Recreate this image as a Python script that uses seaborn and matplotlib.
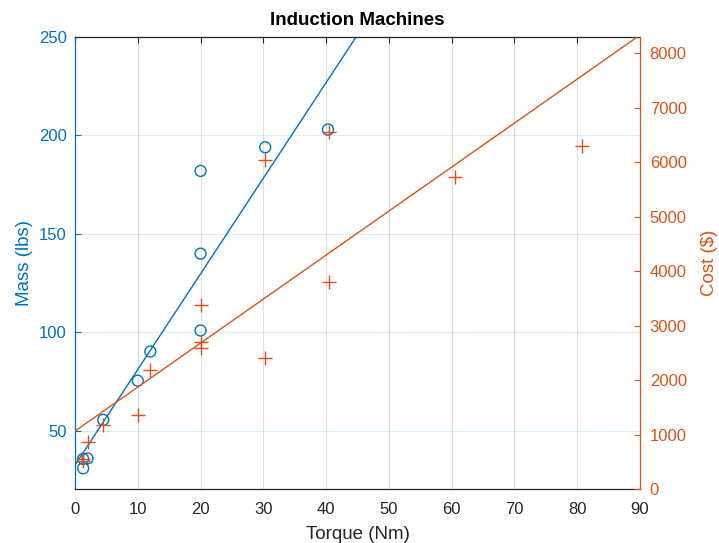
import numpy as np
import pandas as pd
import matplotlib
matplotlib.use("Agg")
import matplotlib.pyplot as plt
import seaborn as sns

# ---- data ----
mass_torque = [1.3, 1.3, 2.0, 4.5, 10.0, 12.0, 20.0, 20.0, 20.0, 30.3, 40.3]
mass_lbs = [31.0, 35.8, 36.0, 55.6, 75.5, 90.3, 101.0, 140.0, 182.0, 194.0, 203.0]
cost_torque = [1.2, 1.3, 2.0, 4.5, 10.0, 12.0, 20.0, 20.0, 20.0, 30.3, 30.3, 40.5, 40.5, 60.6, 80.7]
cost_usd = [520, 545, 870, 1174, 1358, 2183, 3376, 2700, 2590, 6037, 2398, 6556, 3804, 5719, 6300]

x_ticks = [0, 10, 20, 30, 40, 50, 60, 70, 80, 90]
mass_ticks = [50, 100, 150, 200, 250]
cost_ticks = [0, 1000, 2000, 3000, 4000, 5000, 6000, 7000, 8000]

title = "Induction Machines"
xlabel = "Torque (Nm)"
ylabel_left = "Mass (lbs)"
ylabel_right = "Cost ($)"

BLUE = "#0072BD"
ORANGE = "#D95319"
DARK = "#262626"

sns.set_style("white")
plt.rcParams["font.family"] = ["Liberation Sans", "DejaVu Sans"]

mass_df = pd.DataFrame({"torque": mass_torque, "mass": mass_lbs})
cost_df = pd.DataFrame({"torque": cost_torque, "cost": cost_usd})

fig = plt.figure(figsize=(7.19, 5.43), dpi=100)
ax = fig.add_axes([75 / 719, 1 - 489 / 543, (640 - 75) / 719, (489 - 37) / 543])
ax.set_xlim(0, 90)
ax2 = ax.twinx()
ax2.set_xlim(0, 90)

sns.regplot(data=mass_df, x="torque", y="mass", ax=ax, ci=None, truncate=False,
            marker="o", color=BLUE,
            scatter_kws=dict(s=62, facecolors="none", edgecolors=BLUE, linewidths=1.0, alpha=1, zorder=3),
            line_kws=dict(lw=1.0, zorder=2))
sns.regplot(data=cost_df, x="torque", y="cost", ax=ax2, ci=None, truncate=False,
            marker="+", color=ORANGE,
            scatter_kws=dict(s=90, linewidths=1.0, alpha=1, zorder=3),
            line_kws=dict(lw=1.0, zorder=2))

ax.set_xlim(0, 90)
ax.set_ylim(20.5, 250)
ax2.set_ylim(0, 8294)

ax.set_xticks(x_ticks)
ax.set_yticks(mass_ticks)
ax2.set_yticks(cost_ticks)

ax.grid(axis="x", color=DARK, alpha=0.15, lw=0.8)
ax.grid(axis="y", color=BLUE, alpha=0.15, lw=0.8)
ax2.grid(False)
ax.set_axisbelow(True)

ax.tick_params(axis="x", direction="in", top=True, length=4, width=0.8,
               colors=DARK, labelsize=12, pad=9.5)
ax.tick_params(axis="y", direction="in", length=4, width=0.8,
               colors=BLUE, labelsize=12, pad=6)
ax2.tick_params(axis="y", direction="in", length=4, width=0.8,
                colors=ORANGE, labelsize=12, pad=7)

for s in ["top", "bottom"]:
    ax.spines[s].set_color(DARK)
    ax.spines[s].set_linewidth(0.9)
ax.spines["left"].set_color(BLUE)
ax.spines["left"].set_linewidth(0.9)
ax.spines["right"].set_visible(False)
for s in ["top", "bottom", "left"]:
    ax2.spines[s].set_visible(False)
ax2.spines["right"].set_color(ORANGE)
ax2.spines["right"].set_linewidth(0.9)

ax.set_xlabel(xlabel, fontsize=13.5, color=DARK, labelpad=6)
ax.set_ylabel(ylabel_left, fontsize=13.5, color=BLUE, labelpad=4.5)
ax2.set_ylabel(ylabel_right, fontsize=13.5, color=ORANGE, labelpad=10.5)
ax.set_title(title, fontsize=13.5, fontweight="bold", color="black", pad=8.5)

fig.savefig("out.png", dpi=100)
